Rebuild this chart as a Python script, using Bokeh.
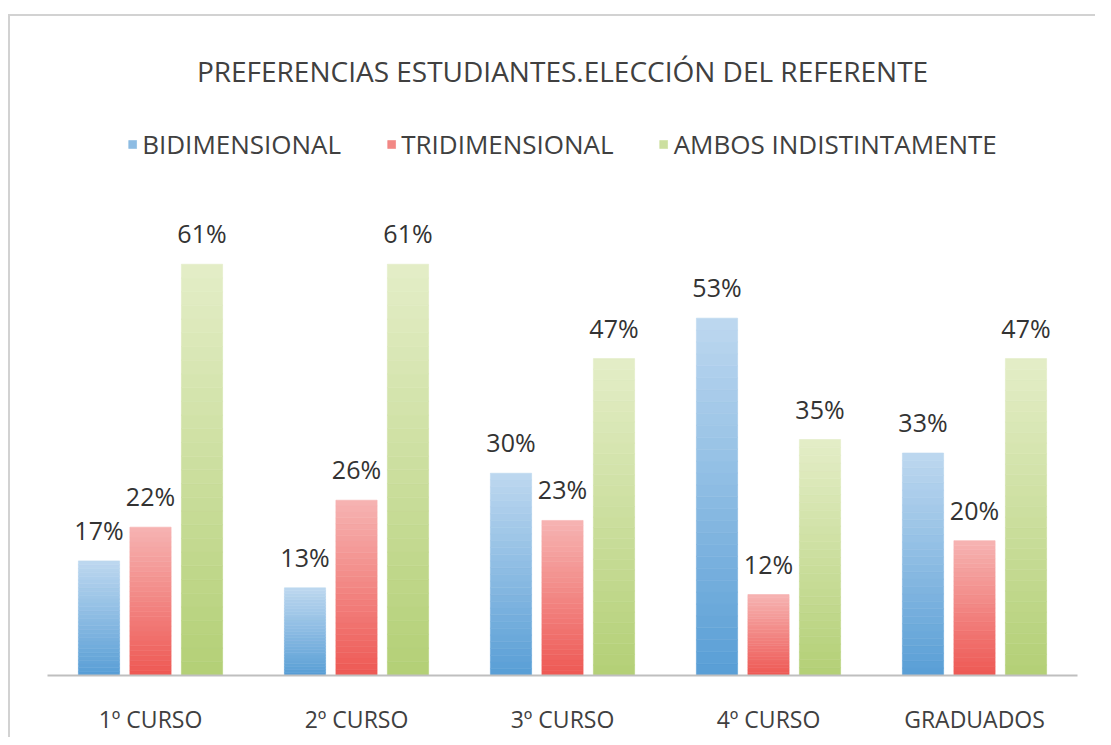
from bokeh.plotting import figure
from bokeh.models import FactorRange, Legend, LegendItem, ColumnDataSource
from bokeh.transform import dodge
from bokeh.core.properties import value
from bokeh.embed import file_html
from bokeh.resources import INLINE

categories = ["1º CURSO", "2º CURSO", "3º CURSO", "4º CURSO", "GRADUADOS"]
series_names = ["BIDIMENSIONAL", "TRIDIMENSIONAL", "AMBOS INDISTINTAMENTE"]
bidimensional = [17, 13, 30, 53, 33]
tridimensional = [22, 26, 23, 12, 20]
ambos = [61, 61, 47, 35, 47]

FONT = "Open Sans"
TXT = "#404040"

# (bottom colour, top colour) for the vertical gradient of each series
grad = [("#5a9fd6", "#bcd7ef"), ("#ee5a55", "#f6b2b1"), ("#b4d077", "#e3edc6")]
offsets = [-0.25, 0.0, 0.25]
series = [bidimensional, tridimensional, ambos]

p = figure(x_range=FactorRange(*categories, range_padding=0), y_range=(0, 83.8),
           width=1095, height=737, output_backend="svg", toolbar_location=None,
           min_border_left=47, min_border_right=18, min_border_bottom=58, min_border_top=110,
           title="PREFERENCIAS ESTUDIANTES.ELECCIÓN DEL REFERENTE")
p.outline_line_color = None
p.background_fill_color = "white"
p.border_fill_alpha = 0
p.styles = {
    "background": "linear-gradient(#d2d2d2,#d2d2d2) 8px 14px / 2px 100% no-repeat, "
                  "linear-gradient(#d2d2d2,#d2d2d2) 8px 14px / 100% 2px no-repeat, white"
}
p.xgrid.visible = False
p.ygrid.visible = False
p.yaxis.visible = False

p.title.align = "center"
p.title.text_font = FONT
p.title.text_font_style = "normal"
p.title.text_font_size = "28px"
p.title.text_color = TXT
p.title.standoff = 42

p.xaxis.axis_line_color = "#bfbfbf"
p.xaxis.axis_line_width = 2
p.xaxis.major_tick_line_color = None
p.xaxis.minor_tick_line_color = None
p.xaxis.major_label_text_font = FONT
p.xaxis.major_label_text_font_size = "23px"
p.xaxis.major_label_text_color = TXT
p.xaxis.major_label_standoff = 21


def mix(c1, c2, t):
    a = [int(c1[i:i + 2], 16) for i in (1, 3, 5)]
    b = [int(c2[i:i + 2], 16) for i in (1, 3, 5)]
    return "#%02x%02x%02x" % tuple(round(a[j] + (b[j] - a[j]) * t) for j in range(3))


N = 30
legend_items = []
for s, vals in enumerate(series):
    rep = None
    for k in range(N):
        src = ColumnDataSource(dict(
            cat=categories,
            bottom=[v * k / N for v in vals],
            top=[v * (k + 1) / N for v in vals],
        ))
        col = mix(grad[s][0], grad[s][1], k / (N - 1))
        r = p.vbar(x=dodge("cat", offsets[s], range=p.x_range), bottom="bottom", top="top",
                   width=0.2, source=src, fill_color=col, line_color=col, line_width=0.6)
        if k == N // 2:
            rep = r
    legend_items.append(LegendItem(label=series_names[s], renderers=[rep]))
    lsrc = ColumnDataSource(dict(cat=categories, val=vals, lab=["%d%%" % v for v in vals]))
    p.text(x=dodge("cat", offsets[s], range=p.x_range), y="val", text="lab", source=lsrc,
           text_align="center", text_baseline="bottom", y_offset=-14,
           text_font=value(FONT), text_font_size="25px", text_color="#333333")

legend = Legend(items=legend_items, orientation="horizontal", location="top_center",
                label_text_font=FONT, label_text_font_size="26px", label_text_color=TXT,
                glyph_width=10, glyph_height=10, label_standoff=5, spacing=45,
                border_line_alpha=0, background_fill_alpha=0, margin=11, padding=5)
p.add_layout(legend)

open("out.html", "w").write(file_html(p, INLINE))
